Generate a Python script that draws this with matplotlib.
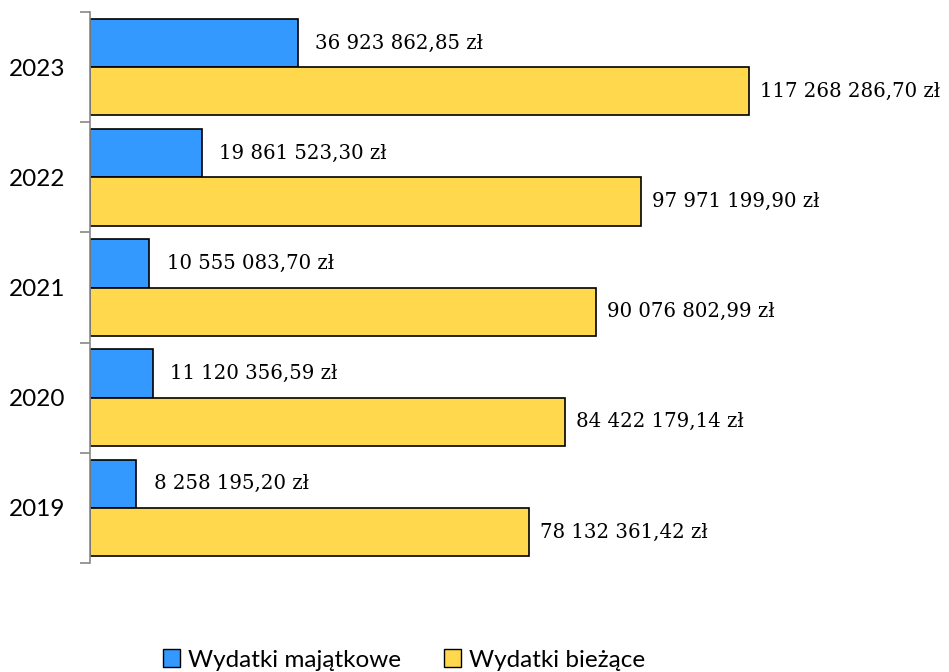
import matplotlib.pyplot as plt
import numpy as np
from matplotlib.patches import Patch

# ---- Data ----
years = ["2019", "2020", "2021", "2022", "2023"]
majatkowe = [8258195.20, 11120356.59, 10555083.70, 19861523.30, 36923862.85]
biezace = [78132361.42, 84422179.14, 90076802.99, 97971199.90, 117268286.70]
series_names = ["Wydatki majątkowe", "Wydatki bieżące"]
colors = ["#3399FF", "#FFD84D"]


def fmt_pln(v):
    s = f"{v:,.2f}"
    return s.replace(",", " ").replace(".", ",") + " zł"


fig = plt.figure(figsize=(9.49, 6.72), dpi=100)
ax = fig.add_axes([90 / 949, 109 / 672, 787 / 949, 551 / 672])

y = np.arange(len(years))
h = 0.4375
ax.barh(y + h / 2, majatkowe, height=h, color=colors[0], edgecolor="black", linewidth=1.2)
ax.barh(y - h / 2, biezace, height=h, color=colors[1], edgecolor="black", linewidth=1.2)

lab_font = dict(family="DejaVu Serif", fontsize=14.2, va="center", ha="left")
for yi, v in zip(y, majatkowe):
    ax.annotate(fmt_pln(v), (v, yi + h / 2), xytext=(12.5, 0), textcoords="offset points", **lab_font)
for yi, v in zip(y, biezace):
    ax.annotate(fmt_pln(v), (v, yi - h / 2), xytext=(8, 0), textcoords="offset points", **lab_font)

ax.set_xlim(0, 140e6)
ax.set_ylim(-0.5, len(years) - 0.5)
ax.set_yticks(y)
ax.set_yticklabels(years, family="Lato", fontsize=17.5)
ax.set_yticks(np.arange(-0.5, len(years)), minor=True)
ax.tick_params(axis="y", which="major", length=0, pad=18)
ax.tick_params(axis="y", which="minor", length=7, color="#888888", width=1.2)
ax.set_xticks([])
for side in ["top", "right", "bottom"]:
    ax.spines[side].set_visible(False)
ax.spines["left"].set_color("#888888")
ax.spines["left"].set_linewidth(1.2)

handles = [Patch(facecolor=c, edgecolor="black", linewidth=1.0) for c in colors]
fig.legend(handles, series_names, loc="center", bbox_to_anchor=(404 / 949, 1 - 660 / 672),
           ncol=2, frameon=False, prop=dict(family="Lato", size=17.5),
           handlelength=0.7, handleheight=0.7, handletextpad=0.3, columnspacing=1.8)

fig.savefig("out.png", dpi=100)
